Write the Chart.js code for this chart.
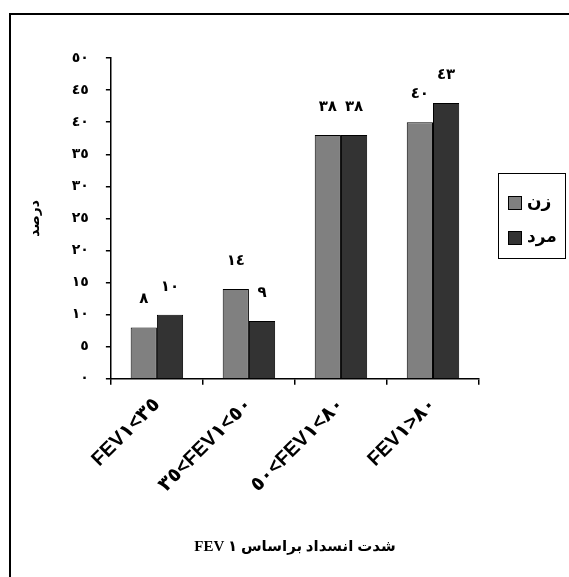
<!DOCTYPE html>
<html>
<head>
<meta charset="utf-8">
<script src="https://cdn.jsdelivr.net/npm/chart.js@4/dist/chart.umd.min.js"></script>
<style>
  html, body { margin: 0; padding: 0; background: #fff; }
  #wrap { width: 569px; height: 577px; }
</style>
</head>
<body>
<div id="wrap"><canvas id="chart"></canvas></div>
<script>
// categories (LRO keeps the mixed latin / arabic digits in written order)
const categories = ['FEV١<٣٥', '٣٥<FEV١<٥٠', '٥٠<FEV١<٨٠', 'FEV١>٨٠'];
const seriesNames = ['زن', 'مرد'];
const womenValues = [8, 14, 38, 40];
const menValues = [10, 9, 38, 43];
const yTicks = [0, 5, 10, 15, 20, 25, 30, 35, 40, 45, 50];
const xTitle = 'شدت انسداد براساس ١ FEV';
const yTitle = 'درصد';

const arDigits = '٠١٢٣٤٥٦٧٨٩';
const toArabic = v => String(v).replace(/\d/g, d => arDigits[d]);

const barColors = ['#808080', '#333333'];

const frame = {
    id: 'frame',
    afterDraw(chart) {
        const ctx = chart.ctx;
        ctx.save();
        ctx.strokeStyle = '#000';
        ctx.lineWidth = 2;
        ctx.beginPath();
        ctx.moveTo(10, 580);
        ctx.lineTo(10, 14);
        ctx.lineTo(572, 14);
        ctx.stroke();
        ctx.restore();
    }
};

// value labels above bars
const valueLabels = {
    id: 'valueLabels',
    afterDatasetsDraw(chart) {
        const ctx = chart.ctx;
        ctx.save();
        ctx.font = 'bold 15px "Liberation Serif", "DejaVu Sans"';
        ctx.fillStyle = '#000';
        ctx.textAlign = 'center';
        ctx.textBaseline = 'middle';
        chart.data.datasets.forEach((ds, i) => {
            chart.getDatasetMeta(i).data.forEach((bar, j) => {
                ctx.fillText(toArabic(ds.data[j]), bar.x, bar.y - 28);
            });
        });
        ctx.restore();
    }
};

// boxed legend on the right
const boxLegend = {
    id: 'boxLegend',
    afterDraw(chart) {
        const ctx = chart.ctx;
        const bx = 498, by = 173, bw = 67, bh = 85;
        ctx.save();
        ctx.strokeStyle = '#000';
        ctx.lineWidth = 1;
        ctx.strokeRect(bx + 0.5, by + 0.5, bw, bh);
        ctx.font = 'bold 17px "DejaVu Sans"';
        ctx.textBaseline = 'middle';
        ctx.textAlign = 'left';
        chart.data.datasets.forEach((ds, i) => {
            const cy = 203 + i * 35;
            ctx.fillStyle = ds.backgroundColor;
            ctx.fillRect(508, cy - 7, 14, 14);
            ctx.strokeRect(508.5, cy - 6.5, 13, 13);
            ctx.fillStyle = '#000';
            ctx.fillText(ds.label, 527, cy);
        });
        ctx.restore();
    }
};

new Chart(document.getElementById('chart'), {
    type: 'bar',
    data: {
        labels: categories.map(c => '\u202D' + c + '\u202C'),
        datasets: [
            { label: seriesNames[0], data: womenValues, backgroundColor: barColors[0], borderColor: '#000', borderWidth: 1 },
            { label: seriesNames[1], data: menValues, backgroundColor: barColors[1], borderColor: '#000', borderWidth: 1 }
        ]
    },
    options: {
        responsive: true,
        maintainAspectRatio: false,
        animation: false,
        categoryPercentage: 0.57,
        barPercentage: 1,
        layout: { padding: { top: 58, right: 90, bottom: 12, left: 10 } },
        plugins: {
            legend: { display: false },
            tooltip: { enabled: false }
        },
        scales: {
            x: {
                grid: { drawOnChartArea: false, color: '#000', tickLength: 6, lineWidth: 1.5 },
                border: { color: '#000', width: 1.5 },
                ticks: {
                    color: '#000',
                    maxRotation: 45,
                    minRotation: 45,
                    padding: 8,
                    font: { family: '"Liberation Sans", "DejaVu Sans"', weight: 'bold', size: 20 }
                },
                title: {
                    display: true,
                    text: '\u202B' + xTitle + '\u202C',
                    color: '#000',
                    padding: { top: 33, bottom: 9 },
                    font: { family: '"Liberation Serif", "DejaVu Sans"', weight: 'bold', size: 15 }
                }
            },
            y: {
                min: 0,
                max: 50,
                afterBuildTicks: axis => { axis.ticks = yTicks.map(v => ({ value: v })); },
                grid: { drawOnChartArea: false, color: '#000', tickLength: 5, lineWidth: 1.5 },
                border: { color: '#000', width: 1.5 },
                ticks: {
                    color: '#000',
                    padding: 17,
                    callback: v => toArabic(v),
                    font: { family: '"Liberation Serif", "DejaVu Sans"', weight: 'bold', size: 14 }
                },
                title: {
                    display: true,
                    text: yTitle,
                    color: '#000',
                    padding: { top: 17, bottom: 11 },
                    font: { family: '"DejaVu Sans"', weight: 'bold', size: 14 }
                }
            }
        }
    },
    plugins: [frame, valueLabels, boxLegend]
});
</script>
</body>
</html>
